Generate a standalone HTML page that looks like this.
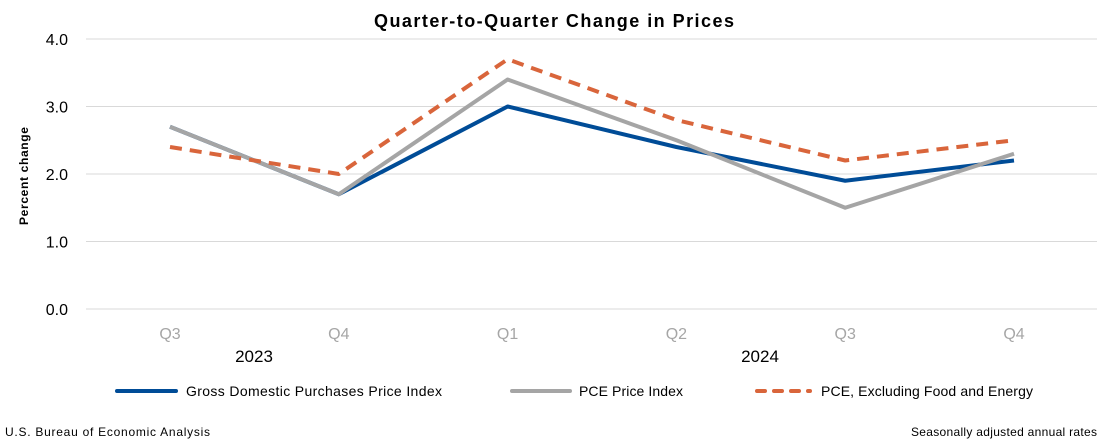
<!DOCTYPE html>
<html><head><meta charset="utf-8"><style>
body{margin:0;background:#fff;}
svg{display:block;font-family:"Liberation Sans",sans-serif;}
</style></head><body>
<svg id="c" width="1108" height="444" viewBox="0 0 1108 444">
<text x="554" y="27" text-anchor="middle" font-size="18" font-weight="bold" fill="#000" textLength="360">Quarter-to-Quarter Change in Prices</text>
<text transform="translate(28,176) rotate(-90)" text-anchor="middle" font-size="12" font-weight="bold" textLength="98">Percent change</text>
<g id="grid"></g><g id="ylab"></g><g id="xlab"></g><g id="lines"></g>
<text x="254" y="362" text-anchor="middle" font-size="17">2023</text>
<text x="760" y="362" text-anchor="middle" font-size="17">2024</text>
<g>
<line x1="117" y1="391" x2="176" y2="391" stroke="#004C97" stroke-width="4" stroke-linecap="round"/>
<text x="186" y="396" font-size="14" textLength="256">Gross Domestic Purchases Price Index</text>
<line x1="512" y1="391" x2="570" y2="391" stroke="#A5A5A5" stroke-width="4" stroke-linecap="round"/>
<text x="579" y="396" font-size="14" textLength="104">PCE Price Index</text>
<line x1="757" y1="391" x2="810" y2="391" stroke="#D9653B" stroke-width="4" stroke-dasharray="8,9" stroke-linecap="round"/>
<text x="821" y="396" font-size="14" textLength="212">PCE, Excluding Food and Energy</text>
</g>
<text x="5" y="436" font-size="12" textLength="205">U.S. Bureau of Economic Analysis</text>
<text x="1097" y="436" font-size="12" text-anchor="end" textLength="186">Seasonally adjusted annual rates</text>
</svg>
<script>
const categories=["Q3","Q4","Q1","Q2","Q3","Q4"];
const gdpValues=[2.7,1.7,3.0,2.4,1.9,2.2];
const pceValues=[2.7,1.7,3.4,2.5,1.5,2.3];
const coreValues=[2.4,2.0,3.7,2.8,2.2,2.5];
const yTicks=[0,1,2,3,4];
const NS="http://www.w3.org/2000/svg";
function x(i){return 170+i*168.8;}
function y(v){return 309-v*67.5;}
function mk(tag,attrs,parent){const e=document.createElementNS(NS,tag);for(const k in attrs)e.setAttribute(k,attrs[k]);document.getElementById(parent).appendChild(e);return e;}
yTicks.forEach(t=>{
 const g=mk('line',{x1:86,x2:1097,y1:y(t),y2:y(t),stroke:'#D9D9D9','stroke-width':1},'grid');
 
 
 const l=mk('text',{x:68,y:y(t)+6,'text-anchor':'end','font-size':16},'ylab');
 l.textContent=t.toFixed(1);
 
 
});
categories.forEach((c,i)=>{
 const l=mk('text',{x:x(i),y:339,'text-anchor':'middle','font-size':16,fill:'#A6A6A6'},'xlab');
 l.textContent=c;
 
 
});
function series(vals,color,dash,name){
 const p=mk('polyline',{points:vals.map((v,i)=>x(i)+','+y(v)).join(' '),fill:'none',stroke:color,'stroke-width':4,'stroke-linejoin':'round','stroke-dasharray':dash||'none'},'lines');
 
 
}
series(gdpValues,'#004C97',null,'gdp-purchases-line');
series(pceValues,'#A5A5A5',null,'pce-line');
series(coreValues,'#D9653B','12,8','core-pce-line');
</script>
</body></html>
